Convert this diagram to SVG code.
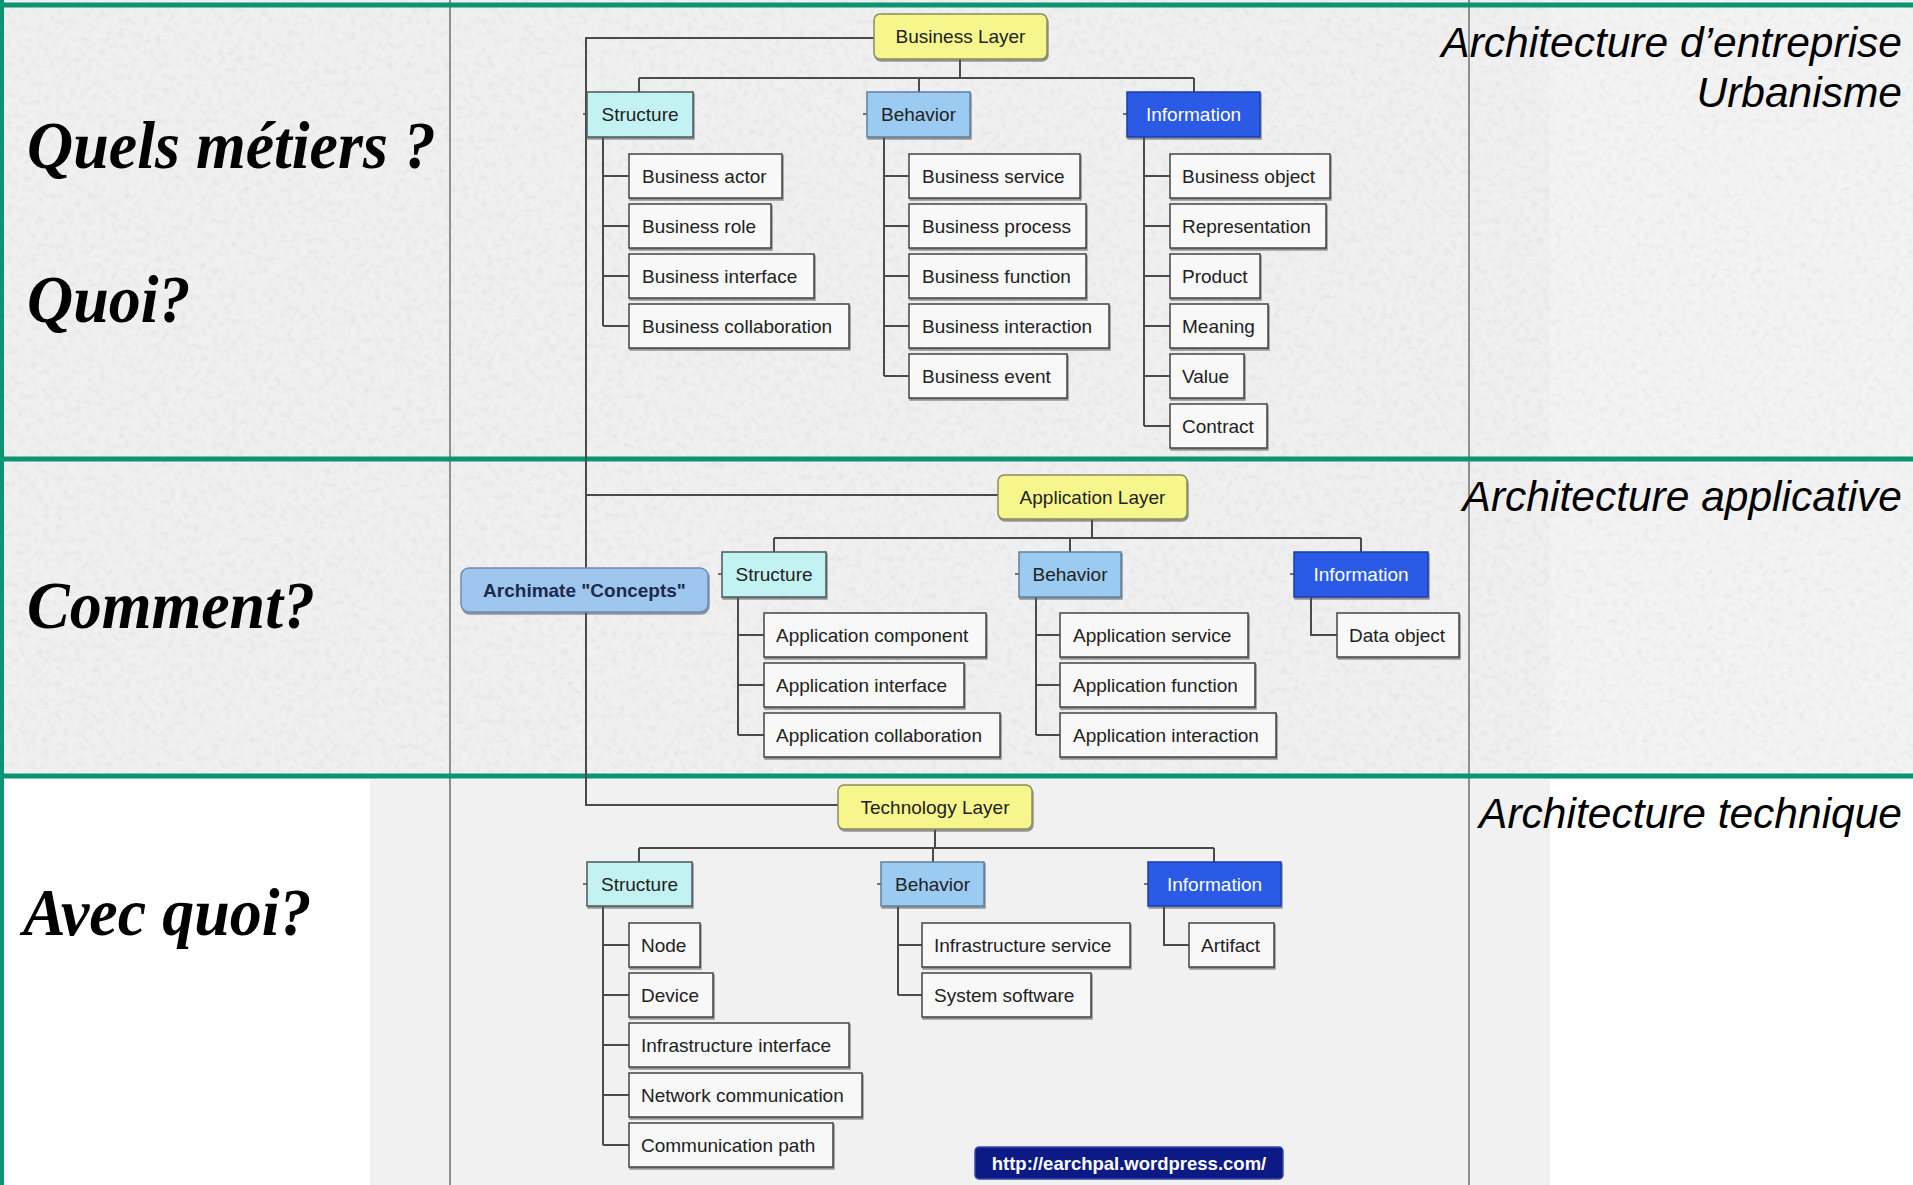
<svg xmlns="http://www.w3.org/2000/svg" width="1913" height="1185" viewBox="0 0 1913 1185">
  <style>
    .q { font-family: "Liberation Serif", "Times New Roman", serif; font-weight: bold; font-style: italic; font-size: 64px; fill: #000; }
    .arch { font-family: "Liberation Sans", Arial, sans-serif; font-style: italic; font-size: 42.5px; fill: #000; text-anchor: end; }
    .t { font-family: "Liberation Sans", Arial, sans-serif; font-size: 19px; fill: #222; }
    .c { text-anchor: middle; }
    .w { fill: #fff; }
    .b { font-weight: bold; }
    .layer { fill: #f6f68c; stroke: #8c8c5c; stroke-width: 1.5; filter: url(#shadow); }
    .struct { fill: #c2f2f2; stroke: #4a5a5a; stroke-width: 1.5; filter: url(#shadow); }
    .behav { fill: #9ccbf2; stroke: #5f7f9c; stroke-width: 1.5; filter: url(#shadow); }
    .info { fill: #2a5ae6; stroke: #1d3fae; stroke-width: 1.5; filter: url(#shadow); }
    .item { fill: #f8f8f8; stroke: #444; stroke-width: 1.5; filter: url(#shadow); }
    .root { fill: #9ec6ee; stroke: #6b8db3; stroke-width: 1.5; filter: url(#shadow); }
    .url { fill: #0c1a86; stroke: #3a4aa8; stroke-width: 1.5; }
    .wire { fill: none; stroke: #4a4a4a; stroke-width: 2; }
    .green { stroke: #0a9472; stroke-width: 5; }
    .grid { stroke: #777; stroke-width: 1.6; }
  </style>
  <defs>
    <filter id="grain" x="0" y="0" width="100%" height="100%">
      <feTurbulence type="fractalNoise" baseFrequency="0.16" numOctaves="3" seed="7"/>
      <feColorMatrix type="matrix" values="0.9 0 0 0 0.5  0.9 0 0 0 0.5  0.9 0 0 0 0.5  0 0 0 0 0.2"/>
    </filter>
    <filter id="shadow" x="-5%" y="-10%" width="115%" height="135%">
      <feDropShadow dx="1" dy="2" stdDeviation="0.6" flood-color="#555" flood-opacity="0.6"/>
    </filter>
  </defs>

  <!-- paper background -->
  <g id="background">
    <rect x="0" y="0" width="1913" height="1185" fill="#ffffff"/>
    <rect x="0" y="0" width="1913" height="776" fill="#ececec"/>
    <rect x="1550" y="0" width="363" height="776" fill="#f0f0f0"/>
    <rect x="0" y="0" width="1913" height="776" fill="#000" filter="url(#grain)"/>
    <rect x="370" y="776" width="1180" height="409" fill="#f1f1f1"/>
  </g>

  <!-- column and row rules -->
  <g id="rules">
    <line class="grid" x1="450" y1="0" x2="450" y2="1185"/>
    <line class="grid" x1="1469" y1="0" x2="1469" y2="1185"/>
    <line class="green" x1="0" y1="5" x2="1913" y2="5"/>
    <line class="green" x1="0" y1="459" x2="1913" y2="459"/>
    <line class="green" x1="0" y1="776" x2="1913" y2="776"/>
    <line class="green" x1="1.5" y1="0" x2="1.5" y2="1185" stroke-width="3"/>
  </g>

  <!-- row questions -->
  <g id="questions">
    <text class="q" transform="translate(27,168) scale(1,1.06)">Quels métiers ?</text>
    <text class="q" transform="translate(27,322) scale(1,1.06)">Quoi?</text>
    <text class="q" transform="translate(27,628) scale(1,1.06)">Comment?</text>
    <text class="q" transform="translate(23,935) scale(1,1.06)">Avec quoi?</text>
  </g>

  <!-- row titles -->
  <g id="titles">
    <text class="arch" x="1902" y="57">Architecture d’entreprise</text>
    <text class="arch" x="1902" y="107">Urbanisme</text>
    <text class="arch" x="1902" y="511">Architecture applicative</text>
    <text class="arch" x="1902" y="828">Architecture technique</text>
  </g>

  <!-- tree connectors -->
  <g id="connectors" class="wire">
    <!-- trunk from the root to the three layers -->
    <path d="M874,38 H586 V805 H838"/>
    <path d="M586,495 H998"/>
    <!-- business layer -->
    <path d="M960,59 V78 M639,78 H1194 M639,78 V92 M919,78 V92 M1194,78 V92"/>
    <path d="M603,137 V326 M603,176 H629 M603,226 H629 M603,276 H629 M603,326 H629"/>
    <path d="M884,137 V376 M884,176 H909 M884,226 H909 M884,276 H909 M884,326 H909 M884,376 H909"/>
    <path d="M1144,137 V426 M1144,176 H1170 M1144,226 H1170 M1144,276 H1170 M1144,326 H1170 M1144,376 H1170 M1144,426 H1170"/>
    <!-- application layer -->
    <path d="M1092,519 V538 M774,538 H1361 M774,538 V552 M1070,538 V552 M1361,538 V552"/>
    <path d="M738,597 V735 M738,635 H764 M738,685 H764 M738,735 H764"/>
    <path d="M1036,597 V735 M1036,635 H1060 M1036,685 H1060 M1036,735 H1060"/>
    <path d="M1311,597 V635 H1337"/>
    <!-- technology layer -->
    <path d="M935,829 V848 M639,848 H1214 M639,848 V862 M933,848 V862 M1214,848 V862"/>
    <path d="M603,906 V1145 M603,945 H629 M603,995 H629 M603,1045 H629 M603,1095 H629 M603,1145 H629"/>
    <path d="M898,906 V995 M898,945 H922 M898,995 H922"/>
    <path d="M1164,906 V945 H1189"/>
    <!-- small stubs left of category boxes -->
    <path stroke-width="1.5" d="M583,114 H587 M863,114 H867 M1123,114 H1127 M718,574 H722 M1015,574 H1019 M1290,574 H1294 M583,884 H587 M877,884 H881 M1144,884 H1148"/>
  </g>

  <!-- root -->
  <g id="root">
    <rect class="root" x="461" y="568" width="247" height="44" rx="8"/>
    <text class="t b c" x="584.5" y="597" style="fill:#1c2b4a">Archimate "Concepts"</text>
  </g>

  <!-- business layer -->
  <g id="business-layer">
    <rect class="layer" x="874" y="14" width="173" height="45" rx="6"/>
    <text class="t c" x="960.5" y="43">Business Layer</text>
  </g>
  <g id="business-structure">
    <rect class="struct" x="587" y="92" width="106" height="45"/>
    <text class="t c" x="640" y="121">Structure</text>
  </g>
  <g id="business-behavior">
    <rect class="behav" x="867" y="92" width="103" height="45"/>
    <text class="t c" x="918.5" y="121">Behavior</text>
  </g>
  <g id="business-information">
    <rect class="info" x="1127" y="92" width="133" height="45"/>
    <text class="t c w" x="1193.5" y="121">Information</text>
  </g>
  <g id="business-actor"><rect class="item" x="629" y="154" width="153" height="44"/><text class="t" x="642" y="183">Business actor</text></g>
  <g id="business-role"><rect class="item" x="629" y="204" width="142" height="44"/><text class="t" x="642" y="233">Business role</text></g>
  <g id="business-interface"><rect class="item" x="629" y="254" width="185" height="44"/><text class="t" x="642" y="283">Business interface</text></g>
  <g id="business-collaboration"><rect class="item" x="629" y="304" width="220" height="44"/><text class="t" x="642" y="333">Business collaboration</text></g>
  <g id="business-service"><rect class="item" x="909" y="154" width="171" height="44"/><text class="t" x="922" y="183">Business service</text></g>
  <g id="business-process"><rect class="item" x="909" y="204" width="177" height="44"/><text class="t" x="922" y="233">Business process</text></g>
  <g id="business-function"><rect class="item" x="909" y="254" width="177" height="44"/><text class="t" x="922" y="283">Business function</text></g>
  <g id="business-interaction"><rect class="item" x="909" y="304" width="200" height="44"/><text class="t" x="922" y="333">Business interaction</text></g>
  <g id="business-event"><rect class="item" x="909" y="354" width="158" height="44"/><text class="t" x="922" y="383">Business event</text></g>
  <g id="business-object"><rect class="item" x="1170" y="154" width="160" height="44"/><text class="t" x="1182" y="183">Business object</text></g>
  <g id="representation"><rect class="item" x="1170" y="204" width="156" height="44"/><text class="t" x="1182" y="233">Representation</text></g>
  <g id="product"><rect class="item" x="1170" y="254" width="90" height="44"/><text class="t" x="1182" y="283">Product</text></g>
  <g id="meaning"><rect class="item" x="1170" y="304" width="98" height="44"/><text class="t" x="1182" y="333">Meaning</text></g>
  <g id="value"><rect class="item" x="1170" y="354" width="74" height="44"/><text class="t" x="1182" y="383">Value</text></g>
  <g id="contract"><rect class="item" x="1170" y="404" width="97" height="44"/><text class="t" x="1182" y="433">Contract</text></g>

  <!-- application layer -->
  <g id="application-layer">
    <rect class="layer" x="998" y="475" width="189" height="44" rx="6"/>
    <text class="t c" x="1092.5" y="504">Application Layer</text>
  </g>
  <g id="application-structure">
    <rect class="struct" x="722" y="552" width="104" height="45"/>
    <text class="t c" x="774" y="581">Structure</text>
  </g>
  <g id="application-behavior">
    <rect class="behav" x="1019" y="552" width="102" height="45"/>
    <text class="t c" x="1070" y="581">Behavior</text>
  </g>
  <g id="application-information">
    <rect class="info" x="1294" y="552" width="134" height="45"/>
    <text class="t c w" x="1361" y="581">Information</text>
  </g>
  <g id="application-component"><rect class="item" x="764" y="613" width="222" height="44"/><text class="t" x="776" y="642">Application component</text></g>
  <g id="application-interface"><rect class="item" x="764" y="663" width="200" height="44"/><text class="t" x="776" y="692">Application interface</text></g>
  <g id="application-collaboration"><rect class="item" x="764" y="713" width="236" height="44"/><text class="t" x="776" y="742">Application collaboration</text></g>
  <g id="application-service"><rect class="item" x="1060" y="613" width="188" height="44"/><text class="t" x="1073" y="642">Application service</text></g>
  <g id="application-function"><rect class="item" x="1060" y="663" width="195" height="44"/><text class="t" x="1073" y="692">Application function</text></g>
  <g id="application-interaction"><rect class="item" x="1060" y="713" width="216" height="44"/><text class="t" x="1073" y="742">Application interaction</text></g>
  <g id="data-object"><rect class="item" x="1337" y="613" width="122" height="44"/><text class="t" x="1349" y="642">Data object</text></g>

  <!-- technology layer -->
  <g id="technology-layer">
    <rect class="layer" x="838" y="785" width="194" height="44" rx="6"/>
    <text class="t c" x="935" y="814">Technology Layer</text>
  </g>
  <g id="technology-structure">
    <rect class="struct" x="587" y="862" width="105" height="44"/>
    <text class="t c" x="639.5" y="891">Structure</text>
  </g>
  <g id="technology-behavior">
    <rect class="behav" x="881" y="862" width="103" height="44"/>
    <text class="t c" x="932.5" y="891">Behavior</text>
  </g>
  <g id="technology-information">
    <rect class="info" x="1148" y="862" width="133" height="44"/>
    <text class="t c w" x="1214.5" y="891">Information</text>
  </g>
  <g id="node"><rect class="item" x="629" y="923" width="71" height="44"/><text class="t" x="641" y="952">Node</text></g>
  <g id="device"><rect class="item" x="629" y="973" width="84" height="44"/><text class="t" x="641" y="1002">Device</text></g>
  <g id="infrastructure-interface"><rect class="item" x="629" y="1023" width="220" height="44"/><text class="t" x="641" y="1052">Infrastructure interface</text></g>
  <g id="network-communication"><rect class="item" x="629" y="1073" width="233" height="44"/><text class="t" x="641" y="1102">Network communication</text></g>
  <g id="communication-path"><rect class="item" x="629" y="1123" width="204" height="44"/><text class="t" x="641" y="1152">Communication path</text></g>
  <g id="infrastructure-service"><rect class="item" x="922" y="923" width="208" height="44"/><text class="t" x="934" y="952">Infrastructure service</text></g>
  <g id="system-software"><rect class="item" x="922" y="973" width="169" height="44"/><text class="t" x="934" y="1002">System software</text></g>
  <g id="artifact"><rect class="item" x="1189" y="923" width="85" height="44"/><text class="t" x="1201" y="952">Artifact</text></g>

  <!-- source link -->
  <g id="source-link">
    <rect class="url" x="975" y="1147" width="308" height="32" rx="4"/>
    <text class="t b c w" x="1129" y="1170" style="font-size:18.5px">http://earchpal.wordpress.com/</text>
  </g>
</svg>
